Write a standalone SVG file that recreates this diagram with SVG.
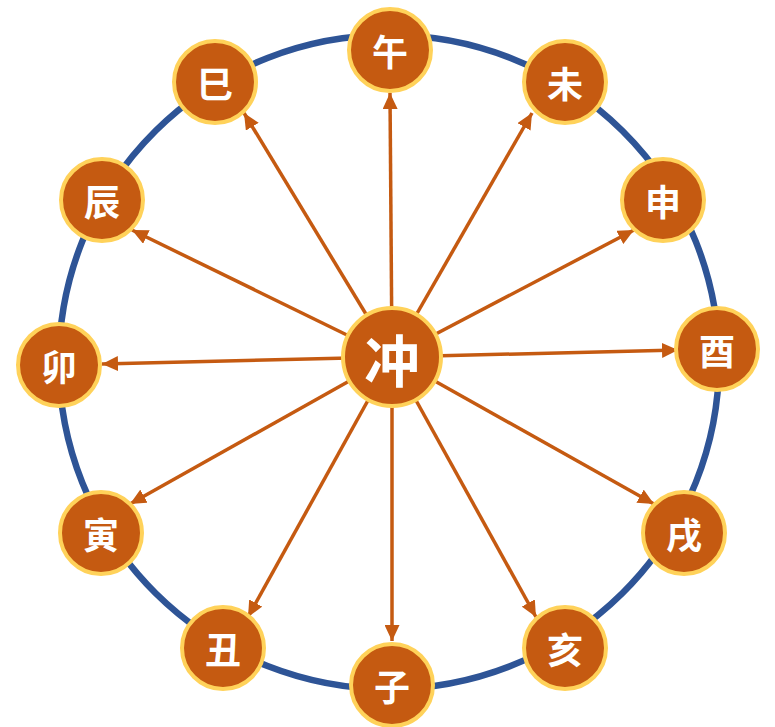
<svg xmlns="http://www.w3.org/2000/svg" width="775" height="727" viewBox="0 0 775 727">
<defs>
<marker id="ah" markerUnits="userSpaceOnUse" markerWidth="17" markerHeight="15" refX="16" refY="7.5" orient="auto">
<path d="M0,0 L16,7.5 L0,15 z" fill="#C55A11"/>
</marker>
<style>
.node{fill:#C55A11;stroke:#FFD25A;stroke-width:4}
.lbl{fill:#FFFFFF;font-family:"Noto Sans CJK SC","Noto Sans CJK TC",sans-serif;font-weight:bold;font-size:36px;text-anchor:middle;dominant-baseline:central}
.big{font-size:56px}
.conn line{stroke:#C55A11;stroke-width:3.5;marker-end:url(#ah)}
</style>
</defs>
<rect width="775" height="727" fill="#FFFFFF"/>
<ellipse id="ring" cx="389" cy="362" rx="330" ry="327" fill="none" stroke="#2E5496" stroke-width="6.5"/>
<g id="connectors" class="conn">
<line x1="392" y1="357" x2="390" y2="93"/>
<line x1="392" y1="357" x2="532" y2="113"/>
<line x1="392" y1="357" x2="634" y2="230"/>
<line x1="392" y1="357" x2="678" y2="350"/>
<line x1="392" y1="357" x2="654" y2="504"/>
<line x1="392" y1="357" x2="536" y2="617"/>
<line x1="392" y1="357" x2="392" y2="641"/>
<line x1="392" y1="357" x2="248" y2="617"/>
<line x1="392" y1="357" x2="130" y2="504"/>
<line x1="392" y1="357" x2="102" y2="364"/>
<line x1="392" y1="357" x2="132" y2="230"/>
<line x1="392" y1="357" x2="244" y2="113"/>
</g>
<g id="n-chong"><circle class="node" cx="392" cy="357" r="49"/><text class="lbl big" x="392" y="357">冲</text></g>
<g id="n-wu"><circle class="node" cx="390" cy="50" r="41"/><text class="lbl" x="390" y="50">午</text></g>
<g id="n-wei"><circle class="node" cx="565" cy="82" r="41"/><text class="lbl" x="565" y="82">未</text></g>
<g id="n-shen"><circle class="node" cx="663" cy="200" r="41"/><text class="lbl" x="663" y="200">申</text></g>
<g id="n-you"><circle class="node" cx="717" cy="349" r="41"/><text class="lbl" x="717" y="349">酉</text></g>
<g id="n-xu"><circle class="node" cx="684" cy="533" r="41"/><text class="lbl" x="684" y="533">戌</text></g>
<g id="n-hai"><circle class="node" cx="565" cy="648" r="41"/><text class="lbl" x="565" y="648">亥</text></g>
<g id="n-zi"><circle class="node" cx="392" cy="685" r="41"/><text class="lbl" x="392" y="685">子</text></g>
<g id="n-chou"><circle class="node" cx="223" cy="648" r="41"/><text class="lbl" x="223" y="648">丑</text></g>
<g id="n-yin"><circle class="node" cx="101" cy="533" r="41"/><text class="lbl" x="101" y="533">寅</text></g>
<g id="n-mao"><circle class="node" cx="59" cy="365" r="41"/><text class="lbl" x="59" y="365">卯</text></g>
<g id="n-chen"><circle class="node" cx="102" cy="200" r="41"/><text class="lbl" x="102" y="200">辰</text></g>
<g id="n-si"><circle class="node" cx="215" cy="82" r="41"/><text class="lbl" x="215" y="82">巳</text></g>
</svg>
